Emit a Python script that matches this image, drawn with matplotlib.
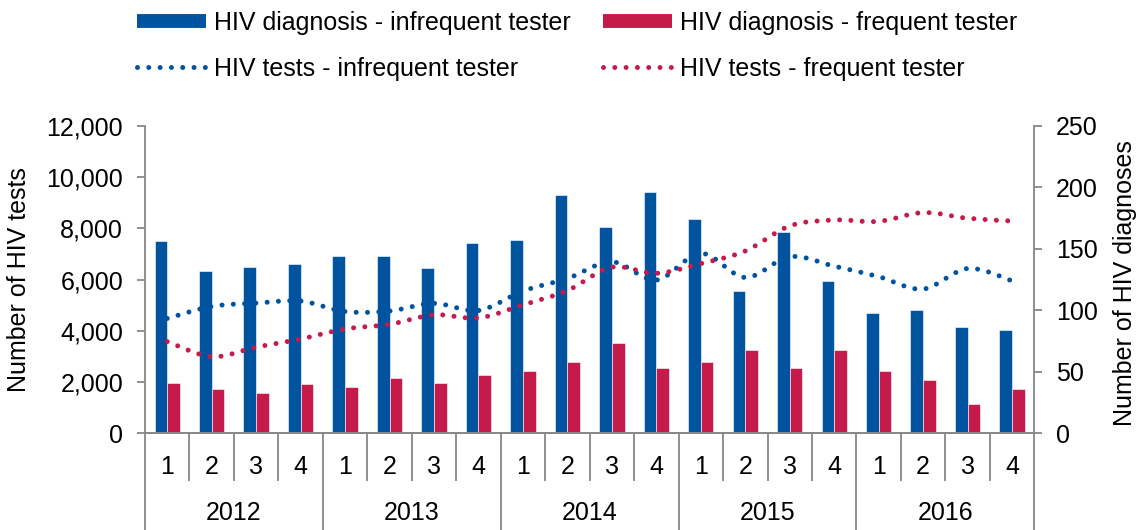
import matplotlib.pyplot as plt
import numpy as np
from matplotlib.path import Path
from matplotlib.patches import PathPatch
from matplotlib.lines import Line2D
from matplotlib.ticker import FuncFormatter

plt.rcParams['font.family'] = ['Liberation Sans', 'DejaVu Sans']
plt.rcParams['font.size'] = 18

# data
years = ['2012', '2013', '2014', '2015', '2016']
quarters = ['1', '2', '3', '4'] * 5
diag_infrequent = [156, 132, 135, 138, 144, 144, 134, 155, 157, 194,
                   168, 196, 174, 116, 164, 124, 98, 100, 86, 84]
diag_frequent = [41, 36, 33, 40, 38, 45, 41, 47, 51, 58,
                 73, 53, 58, 68, 53, 68, 51, 43, 24, 36]
tests_infrequent = [4480, 4950, 5080, 5160, 4750, 4770, 5070, 4790, 5550, 6040,
                    6690, 5980, 7020, 6080, 6890, 6520, 6110, 5630, 6430, 5950]
tests_frequent = [3580, 2990, 3360, 3680, 4070, 4250, 4620, 4500, 5010, 5570,
                  6480, 6240, 6620, 7110, 8090, 8320, 8270, 8610, 8390, 8280]

blue = '#00539F'
red = '#C51B4B'
grey = '#878787'
dots = (0, (0.001, 2.26))


def smooth_path(xs, ys):
    # excel-like smoothed line (catmull-rom as bezier segments)
    pts = list(zip(xs, ys))
    n = len(pts)
    verts = [pts[0]]
    codes = [Path.MOVETO]
    for i in range(n - 1):
        p0 = pts[max(i - 1, 0)]
        p1 = pts[i]
        p2 = pts[i + 1]
        p3 = pts[min(i + 2, n - 1)]
        c1 = (p1[0] + (p2[0] - p0[0]) / 6, p1[1] + (p2[1] - p0[1]) / 6)
        c2 = (p2[0] - (p3[0] - p1[0]) / 6, p2[1] - (p3[1] - p1[1]) / 6)
        verts += [c1, c2, p2]
        codes += [Path.CURVE4] * 3
    return Path(verts, codes)


fig = plt.figure(figsize=(11.44, 5.3), dpi=100)
ax = fig.add_axes([145 / 1144, 1 - 433.3 / 530, 889.3 / 1144, 307.6 / 530])
ax2 = ax.twinx()
ax.set_zorder(ax2.get_zorder() + 1)
ax.patch.set_visible(False)

x = np.arange(len(quarters))
w = 0.285
ax2.bar(x - w / 2, diag_infrequent, w, color=blue, edgecolor='white', linewidth=0.4)
ax2.bar(x + w / 2, diag_frequent, w, color=red, edgecolor='white', linewidth=0.4)

for vals, col in [(tests_infrequent, blue), (tests_frequent, red)]:
    pp = PathPatch(smooth_path(x, vals), fill=False, edgecolor=col, lw=3.6,
                   linestyle=dots, capstyle='round', transform=ax.transData)
    ax.add_patch(pp)

ax.set_xlim(-0.5, len(quarters) - 0.5)
ax.set_ylim(0, 12000)
ax2.set_ylim(0, 250)
ax.set_yticks(range(0, 12001, 2000))
ax.yaxis.set_major_formatter(FuncFormatter(lambda v, p: f'{int(v):,}'))
ax2.set_yticks(range(0, 251, 50))

for a in (ax, ax2):
    for s in a.spines.values():
        s.set_color(grey)
        s.set_linewidth(1.3)
    a.spines['top'].set_visible(False)
ax.spines['right'].set_visible(False)
ax2.spines['left'].set_visible(False)

ax.tick_params(axis='y', length=5.8, width=1.3, color=grey, pad=10, labelsize=18)
ax2.tick_params(axis='y', length=5.8, width=1.3, color=grey, pad=10, labelsize=18)

# two level category axis
ax.set_xticks(np.arange(-0.5, len(quarters), 4))
ax.set_xticks(np.arange(-0.5, len(quarters), 1), minor=True)
ax.tick_params(axis='x', which='major', length=70, width=1.3, color=grey, labelbottom=False)
ax.tick_params(axis='x', which='minor', length=34.5, width=1.3, color=grey, labelbottom=False)
trans = ax.get_xaxis_transform()
for i, q in enumerate(quarters):
    ax.text(i, -0.108, q, transform=trans, ha='center', va='center', fontsize=18)
for k, yr in enumerate(years):
    ax.text(4 * k + 1.5, -0.26, yr, transform=trans, ha='center', va='center', fontsize=18)

ax.set_ylabel('Number of HIV tests', fontsize=18)
ax.yaxis.set_label_coords(-0.128, 0.5)
ax2.set_ylabel('Number of HIV diagnoses', fontsize=18, rotation=90)
ax2.yaxis.set_label_coords(1.089, 0.49)

handles = [
    Line2D([], [], color=blue, lw=10, solid_capstyle='butt'),
    Line2D([], [], color=blue, lw=3.6, linestyle=dots, dash_capstyle='round'),
    Line2D([], [], color=red, lw=10, solid_capstyle='butt'),
    Line2D([], [], color=red, lw=3.6, linestyle=dots, dash_capstyle='round'),
]
labels = ['HIV diagnosis - infrequent tester', 'HIV tests - infrequent tester',
          'HIV diagnosis - frequent tester', 'HIV tests - frequent tester']
fig.legend(handles, labels, ncol=2, loc='upper left', bbox_to_anchor=(137 / 1144, 0.98),
           frameon=False, borderpad=0, borderaxespad=0, handlelength=2.75,
           handletextpad=0.33, columnspacing=1.28, labelspacing=0.89, fontsize=18)

fig.savefig('out.png', dpi=100)
